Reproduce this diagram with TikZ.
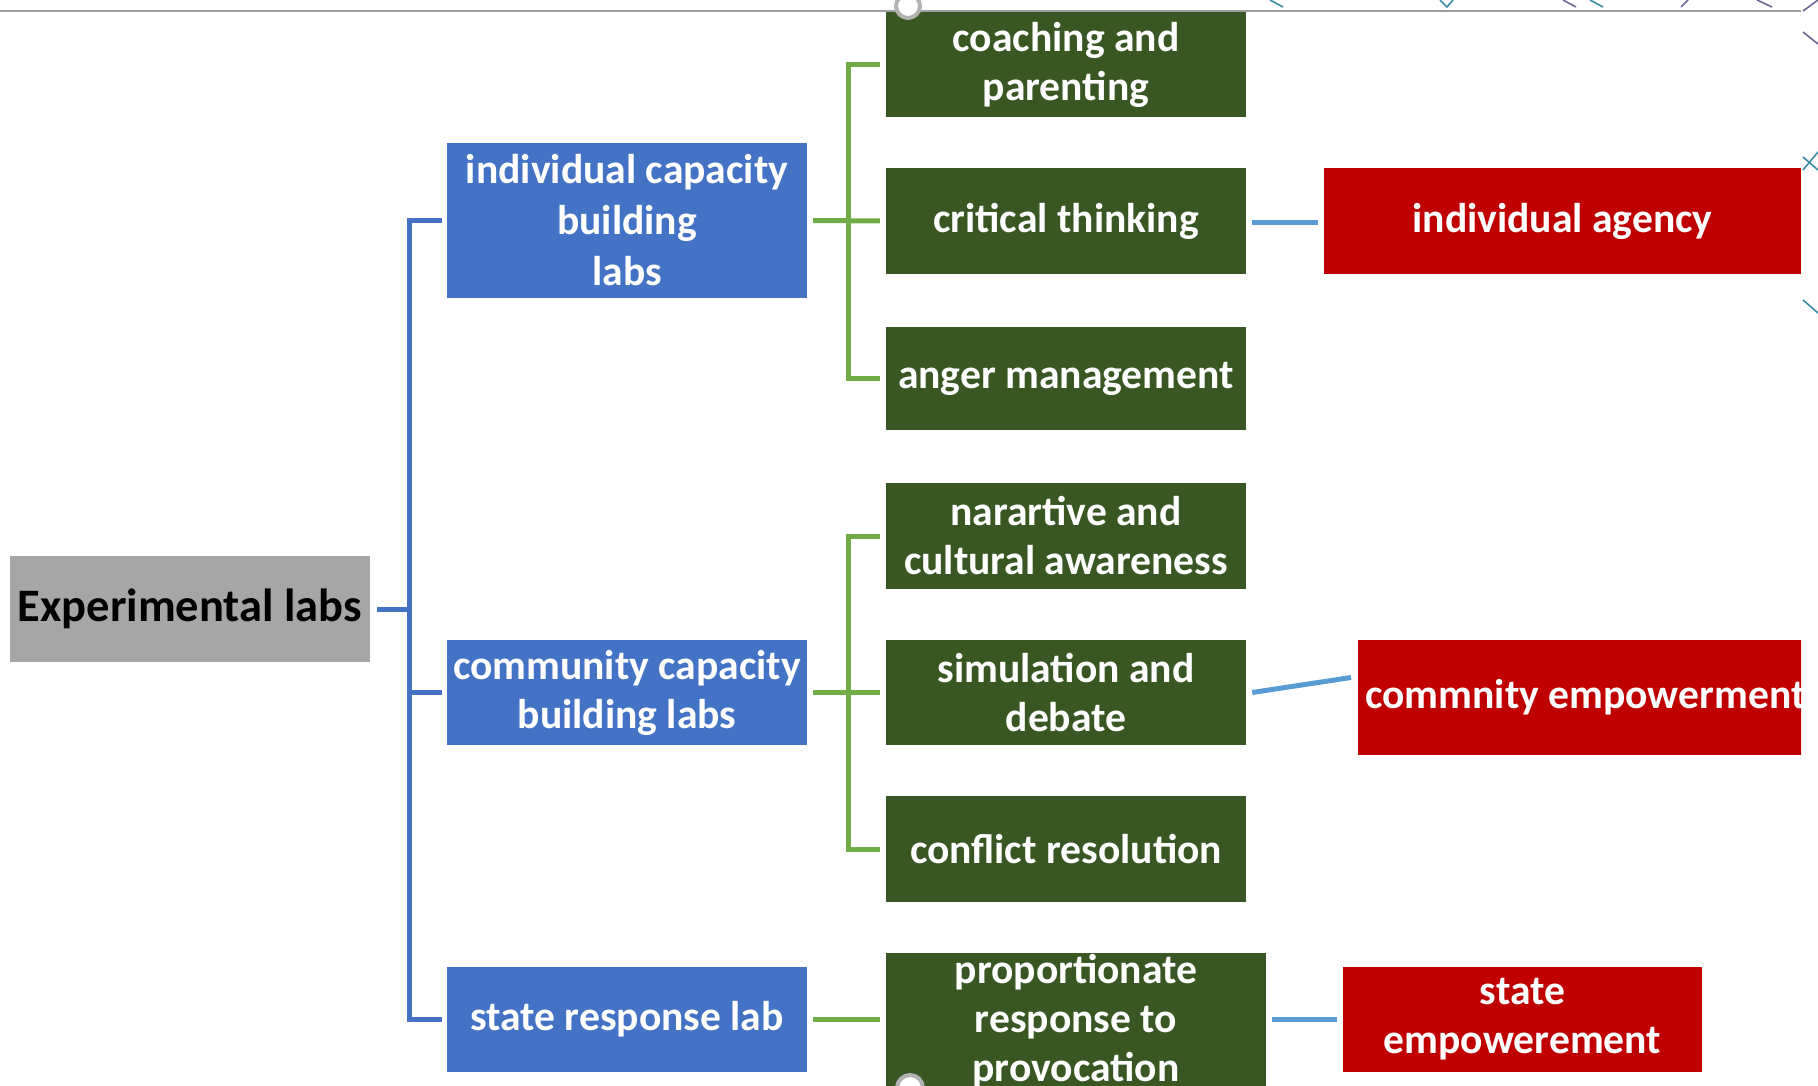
\documentclass[tikz,border=0pt]{standalone}
\usepackage{fontspec}
\setmainfont{Carlito}
\usepackage{tikz}
\definecolor{labblue}{HTML}{4472C4}
\definecolor{labgreen}{HTML}{385723}
\definecolor{labred}{HTML}{C00000}
\definecolor{labgray}{HTML}{A6A6A6}
\definecolor{linkgreen}{HTML}{70AD47}
\definecolor{linkblue}{HTML}{5B9BD5}
\definecolor{edgeteal}{HTML}{3B8EA5}
\definecolor{edgeplum}{HTML}{6C6894}

\begin{document}
\begin{tikzpicture}[x=1pt,y=-1pt]
\tikzset{
  labbox/.style={inner sep=0pt, align=center, text=white, minimum width=360pt, minimum height=106pt,
    font=\fontsize{41.6}{49}\selectfont\bfseries},
  bluebox/.style={labbox, fill=labblue},
  greenbox/.style={labbox, fill=labgreen},
  redbox/.style={labbox, fill=labred},
  rootbox/.style={labbox, fill=labgray, text=black, font=\fontsize{46.5}{52}\selectfont\bfseries},
  treelink/.style={line width=5pt, labblue},
  sublink/.style={line width=5pt, linkgreen},
  outlink/.style={line width=5pt, linkblue},
  edgemark/.style={line width=1.6pt, edgeteal},
}
\useasboundingbox (0,0) rectangle (1818,1086);

\begin{scope}
\clip (0,0) rectangle (1801,1086);
% first column
\node (root) [rootbox] at (190,609) {Experimental labs};
% labs
\node (icb) [bluebox, minimum height=155pt, font=\fontsize{41.6}{51}\selectfont\bfseries] at (627,220.5) {individual capacity\\building\\labs};
\node (ccb) [bluebox, minimum height=105pt] at (627,692.5) {community capacity\\building labs};
\node (srl) [bluebox, minimum height=105pt] at (627,1019.5) {state response lab};
% activities
\node (coach) [greenbox, minimum height=106pt] at (1066,64.5) {coaching and\\parenting};
\node (crit) [greenbox] at (1066,221) {critical thinking};
\node (anger) [greenbox, minimum height=103pt] at (1066,378.5) {anger management};
\node (narr) [greenbox] at (1066,536) {narartive and\\cultural awareness};
\node (sim) [greenbox, minimum height=105pt] at (1066,692.5) {simulation and\\debate};
\node (confl) [greenbox] at (1066,849) {conflict resolution};
\node (prop) [greenbox, minimum width=380pt, minimum height=136pt] at (1076,1021) {proportionate\\response to\\provocation};
% outcomes
\node (agency) [redbox, minimum width=477pt] at (1562.5,221) {individual agency};
\node (comm) [redbox, inner xsep=7pt, minimum height=115pt, anchor=west] at (1358,697.5) {commnity empowerment};
\node (state) [redbox, minimum width=359pt, minimum height=105pt] at (1522.5,1019.5) {state\\empowerement};

% connectors
\coordinate (bus) at (409,609);
\draw[treelink] ([xshift=7pt]root.east) -- (bus);
\draw[treelink] ([xshift=-5pt]icb.west) -| (bus) |- ([xshift=-5pt]srl.west);
\draw[treelink] ([xshift=-5pt]ccb.west) -- (bus |- ccb.west);

\coordinate (gbus1) at (848,221);
\draw[sublink] ([xshift=-6pt]coach.west) -| (gbus1) |- ([xshift=-6pt]anger.west);
\draw[sublink] ([xshift=6pt]icb.east) -- ([xshift=-6pt]crit.west);
\coordinate (gbus2) at (848,692.5);
\draw[sublink] ([xshift=-6pt]narr.west) -| (gbus2) |- ([xshift=-6pt]confl.west);
\draw[sublink] ([xshift=6pt]ccb.east) -- ([xshift=-6pt]sim.west);
\draw[sublink] ([xshift=6pt]srl.east) -- ([xshift=-6pt]srl.east -| prop.west);

\draw[outlink] ([xshift=6pt,yshift=-2pt]crit.east) -- ([xshift=-6pt,yshift=-2pt]agency.west);
\draw[outlink] ([xshift=6pt]sim.east) -- ([xshift=-7pt,yshift=20pt]comm.west);
\draw[outlink] ([xshift=6pt]prop.east |- srl.east) -- ([xshift=-6pt]state.west);

% frame line and handles
\draw[gray!75, line width=2.5pt] (0,11) -- (1801,11);
\node (htop) [circle, draw=gray!60, line width=4pt, fill=white, minimum size=24pt, inner sep=0pt] at (908,6) {};
\node (hbot) [circle, draw=gray!60, line width=4pt, fill=white, minimum size=26pt, inner sep=0pt] at (910,1088) {};
\end{scope}

% fragments beyond the frame
\draw[edgemark] (1270,0) -- (1283,7);
\draw[edgemark] (1440,0) -- (1447,7) -- (1453,0);
\draw[edgemark, edgeplum] (1563,0) -- (1576,7);
\draw[edgemark] (1590,0) -- (1603,7);
\draw[edgemark, edgeplum] (1688,0) -- (1681,7);
\draw[edgemark, edgeplum] (1757,0) -- (1772,7);
\draw[edgemark, edgeplum] (1818,0) -- (1803,11);
\draw[edgemark, edgeplum] (1803,32) -- (1818,44);
\draw[edgemark] (1803,170) -- (1818,152);
\draw[edgemark] (1803,157) -- (1818,170);
\draw[edgemark] (1803,300) -- (1818,313);
\end{tikzpicture}
\end{document}
